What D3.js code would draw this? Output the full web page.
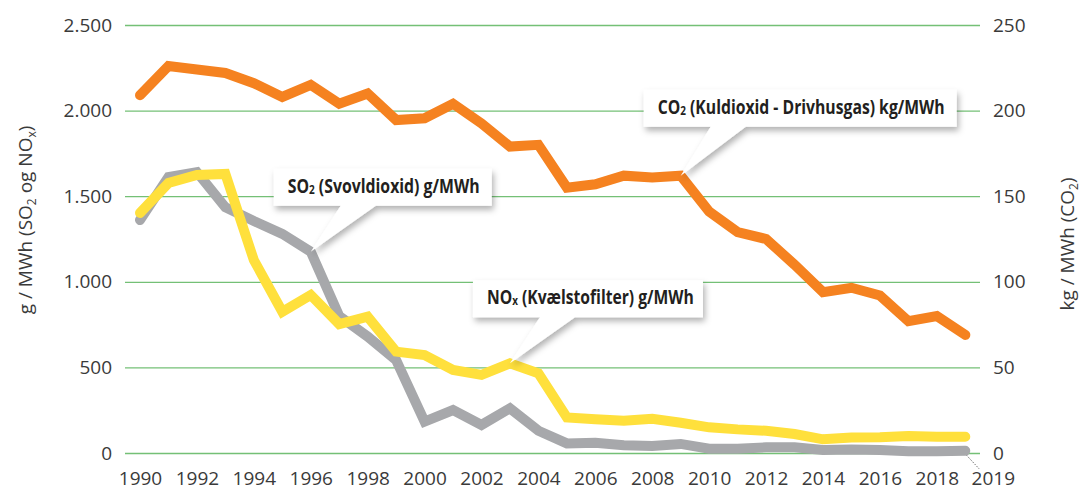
<!DOCTYPE html>
<html>
<head>
<meta charset="utf-8">
<script src="https://cdn.jsdelivr.net/npm/d3@7"></script>
<style>
  body { margin: 0; background: #fff; }
  svg { display: block; font-family: 'Open Sans', 'Noto Sans', sans-serif; }
</style>
</head>
<body>
<div class="chart"></div>
<script>
var width = 1081;
var height = 491;

// data
var years = [1990, 1991, 1992, 1993, 1994, 1995, 1996, 1997, 1998, 1999,
             2000, 2001, 2002, 2003, 2004, 2005, 2006, 2007, 2008, 2009,
             2010, 2011, 2012, 2013, 2014, 2015, 2016, 2017, 2018, 2019];
// kg/MWh (right axis)
var co2 = [209, 226, 224, 222, 216, 208, 215, 204, 210, 194.5,
           195.5, 204, 192.5, 179, 180, 155, 157, 162, 161, 162,
           141, 129, 125, 110, 94, 96.5, 92, 77, 80, 69];
// g/MWh (left axis)
var so2 = [1361, 1612, 1641, 1435, 1355, 1280, 1176, 800, 680, 543,
           183, 251, 164, 261, 130, 56, 60, 45, 41, 53,
           25, 25, 33, 33, 18, 21, 18, 10, 10, 13];
var nox = [1402, 1577, 1624, 1630, 1127, 825, 923, 753, 796, 592,
           572, 485, 456, 524, 465, 208, 197, 189, 200, 177,
           150, 138, 130, 111, 80, 90, 92, 99, 95, 95];

var leftTicks = [0, 500, 1000, 1500, 2000, 2500];
var rightTicks = [0, 50, 100, 150, 200, 250];
var yearTicks = d3.range(1990, 2019, 2);

var callouts = [
  {label: 'SO', sub: '2', rest: ' (Svovldioxid) g/MWh', series: 'so2', year: 1996, w: 218, textW: 192},
  {label: 'NO', sub: 'x', rest: ' (Kvælstofilter) g/MWh', series: 'nox', year: 2003, w: 230, textW: 207},
  {label: 'CO', sub: '2', rest: ' (Kuldioxid - Drivhusgas) kg/MWh', series: 'co2', year: 2009, w: 313, textW: 287}
];

var font = "'Open Sans', 'Noto Sans', sans-serif";

var svg = d3.select('.chart')
  .append('svg')
  .attr('width', width)
  .attr('height', height);

var defs = svg.append('defs');
var f = defs.append('filter').attr('id', 'shadow')
  .attr('x', '-10%').attr('y', '-20%').attr('width', '130%').attr('height', '160%');
f.append('feDropShadow')
  .attr('dx', 2).attr('dy', 4).attr('stdDeviation', 3)
  .attr('flood-color', '#000').attr('flood-opacity', 0.3);

var x = d3.scaleLinear().domain([1990, 2019]).range([140, 965.3]);
var yL = d3.scaleLinear().domain([0, 2500]).range([453, 25]);
var yR = d3.scaleLinear().domain([0, 250]).range([453, 25]);

var gridLeft = 125, gridRight = 980;
var textColor = '#3a3a3a';

var fmt = d3.formatLocale({decimal: ',', thousands: '.', grouping: [3], currency: ['', '']}).format(',');

// left axis + gridlines
var gl = svg.append('g')
  .attr('transform', 'translate(' + gridLeft + ',0)')
  .call(d3.axisLeft(yL).tickValues(leftTicks).tickFormat(fmt)
    .tickSize(-(gridRight - gridLeft)).tickPadding(13))
  .attr('font-family', font);
gl.select('.domain').remove();
gl.selectAll('line').attr('stroke', '#74c076').attr('stroke-width', 1.3);
gl.selectAll('text').attr('fill', textColor).style('font-size', '19px');

// right axis
var gr = svg.append('g')
  .attr('transform', 'translate(' + gridRight + ',0)')
  .call(d3.axisRight(yR).tickValues(rightTicks).tickSize(0).tickPadding(13))
  .attr('font-family', font);
gr.select('.domain').remove();
gr.selectAll('text').attr('fill', textColor).style('font-size', '19px');

// bottom axis
var gx = svg.append('g')
  .attr('transform', 'translate(0,453)')
  .call(d3.axisBottom(x).tickValues(yearTicks).tickFormat(d3.format('d'))
    .tickSize(0).tickPadding(18.5))
  .attr('font-family', font);
gx.select('.domain').remove();
gx.selectAll('text').attr('fill', textColor).style('font-size', '19px');

// 2019 label with dotted leader
svg.append('line')
  .attr('x1', x(2019) + 1).attr('y1', yL(0) + 2)
  .attr('x2', x(2019) + 14).attr('y2', yL(0) + 16)
  .attr('stroke', '#444').attr('stroke-width', 1)
  .attr('stroke-dasharray', '1,1.5');
svg.append('text')
  .attr('x', x(2019) + 28).attr('y', 485)
  .attr('text-anchor', 'middle')
  .attr('fill', textColor).style('font-size', '19px')
  .text('2019');

// axis titles
var lt = svg.append('text')
  .attr('transform', 'translate(32,220) rotate(-90)')
  .attr('text-anchor', 'middle')
  .attr('fill', textColor).style('font-size', '19px');
lt.append('tspan').text('g /  MWh (SO');
lt.append('tspan').attr('font-size', '12px').attr('dy', 4).text('2');
lt.append('tspan').attr('dy', -4).text(' og NO');
lt.append('tspan').attr('font-size', '12px').attr('dy', 4).text('x');
lt.append('tspan').attr('dy', -4).text(')');

var rt = svg.append('text')
  .attr('transform', 'translate(1074,244) rotate(-90)')
  .attr('text-anchor', 'middle')
  .attr('fill', textColor).style('font-size', '19px');
rt.append('tspan').text('kg / MWh (CO');
rt.append('tspan').attr('font-size', '12px').attr('dy', 4).text('2');
rt.append('tspan').attr('dy', -4).text(')');

// lines
var seriesData = {
  so2: years.map(function(y, i){ return {year: y, v: so2[i]} }),
  nox: years.map(function(y, i){ return {year: y, v: nox[i]} }),
  co2: years.map(function(y, i){ return {year: y, v: co2[i]} })
};
var yFor = {so2: yL, nox: yL, co2: yR};
var colors = {so2: '#a7a8ab', nox: '#ffe03c', co2: '#f58220'};

['so2', 'nox', 'co2'].forEach(function(key){
  var line = d3.line()
    .x(function(d){ return x(d.year) })
    .y(function(d){ return yFor[key](d.v) });
  svg.append('path')
    .datum(seriesData[key])
    .attr('d', line)
    .attr('fill', 'none')
    .attr('stroke', colors[key])
    .attr('stroke-width', 10)
    .attr('stroke-linecap', 'round')
    .attr('stroke-linejoin', 'miter');
});

// callouts
callouts.forEach(function(c){
  var idx = years.indexOf(c.year);
  var tipX = x(c.year);
  var tipY = yFor[c.series](seriesData[c.series][idx].v);
  var x0 = tipX - 37;
  var boxBottom = tipY - 46;
  if (c.series === 'co2') boxBottom = tipY - 49;
  var boxTop = boxBottom - 37;
  var x1 = x0 + c.w;
  var bL = tipX + 30, bR = tipX + 65;
  var p = 'M' + x0 + ',' + boxTop + 'H' + x1 + 'V' + boxBottom + 'H' + bR +
          'L' + tipX + ',' + tipY + 'L' + bL + ',' + boxBottom + 'H' + x0 + 'Z';
  svg.append('path')
    .attr('d', p)
    .attr('fill', '#fff')
    .attr('filter', 'url(#shadow)');

  var g = svg.append('g');
  var t = g.append('text')
    .attr('x', 0).attr('y', 0)
    .attr('fill', '#231f20')
    .style('font-size', '19px')
    .style('font-weight', 'bold');
  t.append('tspan').text(c.label);
  t.append('tspan').attr('font-size', '12px').attr('dy', 1).text(c.sub);
  t.append('tspan').attr('dy', -1).text(c.rest);
  var tw = t.node().getComputedTextLength();
  var sx = c.textW / tw;
  g.attr('transform', 'translate(' + (x0 + 14) + ',' + (boxBottom - 13) + ') scale(' + sx + ',1)');
});
</script>
</body>
</html>
